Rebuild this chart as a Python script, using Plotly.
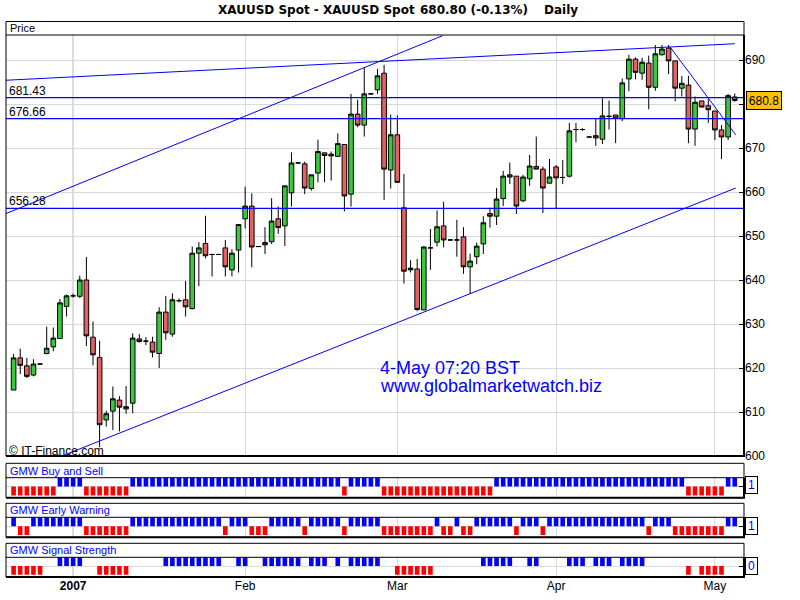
import plotly.graph_objects as go

# ---------------- data ----------------
opens = [615.0, 622.3, 620.5, 618.4, 620.9, 623.3, 624.8, 626.7, 634.0, 636.4,
         636.3, 640.0, 627.0, 622.4, 608.2, 610.2, 612.7, 610.7, 612.0, 626.6,
         626.1, 625.9, 623.3, 632.7, 627.7, 635.3, 635.5, 633.5, 646.1, 648.3,
         645.8, 645.8, 647.3, 642.3, 646.8, 653.9, 656.8, 647.6, 648.5, 648.7,
         653.9, 652.3, 659.8, 666.6, 666.4, 660.8, 664.3, 668.9, 668.2, 668.1,
         670.8, 659.5, 677.7, 675.2, 682.3, 683.2, 687.0, 665.0, 673.0, 656.4,
         642.3, 642.5, 633.2, 647.3, 648.6, 652.3, 649.1, 649.1, 649.8, 643.0,
         645.3, 648.2, 655.1, 654.5, 658.5, 663.9, 663.6, 658.0, 663.0, 665.8,
         665.2, 662.0, 665.7, 663.3, 663.6, 674.2, 674.2, 672.5, 672.8, 672.0,
         677.2, 677.5, 676.7, 685.7, 690.2, 687.0, 689.3, 683.8, 691.2, 692.7,
         689.8, 683.6, 684.3, 674.3, 680.7, 679.6, 678.4, 674.1, 672.5, 681.6]
highs = [623.2, 624.4, 622.3, 622.0, 620.9, 629.4, 629.2, 635.7, 636.7, 636.9,
         641.0, 645.2, 630.6, 626.2, 610.3, 615.8, 613.6, 615.9, 627.9, 627.7,
         627.0, 627.1, 633.8, 636.4, 637.0, 635.8, 639.8, 647.6, 648.6, 654.6,
         645.8, 645.8, 649.1, 647.0, 652.6, 661.2, 659.7, 647.6, 652.0, 658.6,
         656.7, 661.4, 669.0, 666.6, 666.9, 663.9, 671.9, 668.9, 669.2, 673.3,
         670.8, 682.3, 681.0, 688.3, 682.3, 688.0, 688.9, 677.6, 677.4, 664.1,
         644.5, 644.8, 647.7, 651.6, 655.8, 657.8, 649.1, 653.7, 652.0, 646.0,
         648.5, 654.5, 656.4, 660.9, 664.8, 666.7, 663.6, 663.9, 668.4, 672.6,
         665.8, 667.5, 666.1, 667.3, 675.7, 675.7, 674.5, 672.5, 676.6, 681.3,
         680.8, 677.5, 685.8, 691.2, 690.6, 690.5, 691.0, 693.4, 693.4, 693.4,
         689.8, 686.4, 686.4, 681.7, 680.7, 681.1, 678.4, 675.2, 682.3, 682.4]
lows = [615.0, 618.6, 617.7, 618.1, 620.9, 623.1, 623.8, 626.7, 631.7, 636.0,
        635.9, 625.0, 620.6, 602.0, 606.7, 605.9, 605.6, 609.6, 609.7, 625.8,
        625.2, 622.4, 620.0, 626.4, 627.1, 634.9, 631.7, 633.3, 638.6, 644.9,
        640.8, 645.8, 640.8, 640.8, 641.7, 651.7, 642.9, 647.6, 645.9, 648.2,
        650.5, 647.7, 656.7, 666.6, 659.5, 660.3, 662.2, 662.2, 662.6, 668.1,
        655.6, 656.7, 674.7, 672.6, 682.3, 682.3, 658.2, 660.8, 662.2, 639.2,
        641.7, 632.9, 633.2, 642.3, 647.6, 647.4, 649.1, 645.3, 641.4, 636.8,
        643.6, 645.9, 651.9, 652.5, 656.8, 661.8, 655.0, 657.7, 661.4, 665.2,
        655.2, 662.0, 656.2, 661.8, 663.3, 671.3, 673.9, 672.5, 670.5, 670.9,
        674.2, 671.1, 676.1, 682.9, 685.6, 685.5, 678.8, 683.0, 691.0, 686.8,
        680.6, 681.7, 671.1, 670.5, 679.3, 675.7, 671.8, 667.5, 671.8, 680.5]
closes = [622.3, 620.6, 618.1, 620.9, 620.9, 624.5, 626.8, 634.8, 636.4, 636.4,
          640.0, 627.3, 623.0, 607.1, 609.6, 613.0, 611.1, 611.2, 626.8, 626.0,
          626.1, 623.6, 632.7, 628.0, 635.5, 635.3, 633.9, 646.1, 647.3, 645.5,
          645.8, 645.8, 643.0, 646.1, 652.6, 656.8, 647.5, 647.6, 648.0, 653.4,
          651.9, 661.4, 666.6, 666.6, 660.9, 663.9, 669.2, 668.3, 668.6, 671.0,
          659.1, 677.7, 675.2, 682.3, 682.3, 686.4, 665.2, 673.0, 662.2, 642.0,
          642.7, 633.3, 647.5, 647.3, 652.1, 649.1, 649.1, 649.1, 643.0, 644.3,
          647.7, 653.0, 654.5, 658.4, 663.6, 663.4, 656.8, 663.4, 665.9, 665.2,
          660.9, 663.4, 663.2, 663.3, 673.9, 674.2, 674.2, 672.5, 672.3, 677.3,
          677.2, 676.8, 684.8, 690.2, 687.2, 689.5, 683.8, 691.4, 692.5, 689.8,
          683.6, 684.7, 674.3, 680.4, 679.3, 678.7, 674.1, 672.5, 681.9, 680.8]

buy_sell = [-1, -1, -1, -1, -1, -1, -1, 1, 1, 1,
            1, -1, -1, -1, -1, -1, -1, -1, 1, 1,
            1, 1, 1, 1, 1, 1, 1, 1, 1, 1,
            1, 1, 1, 1, 1, 1, 1, 1, 1, 1,
            1, 1, 1, 1, 1, 1, 1, 1, 1, 1,
            -1, 1, 1, 1, 1, 1, -1, -1, -1, -1,
            -1, -1, -1, -1, -1, -1, -1, -1, -1, -1,
            -1, -1, -1, 1, 1, 1, 1, 1, 1, 1,
            1, 1, 1, 1, 1, 1, 1, 1, 1, 1,
            1, 1, 1, 1, 1, 1, 1, 1, 1, 1,
            1, 1, -1, -1, -1, -1, -1, -1, 1, 1]
early_warning = [1, -1, -1, 1, 1, 1, 1, 1, 1, 1,
                 1, -1, -1, -1, -1, -1, -1, -1, 1, 1,
                 1, 1, 1, 1, 1, 1, 1, 1, 1, 1,
                 1, 1, -1, 1, 1, 1, -1, -1, -1, 1,
                 1, 1, 1, 1, -1, 1, 1, 1, 1, 1,
                 -1, 1, 1, 1, 1, 1, -1, -1, -1, -1,
                 -1, -1, -1, -1, 1, -1, -1, 1, -1, -1,
                 1, 1, 1, 1, 1, 1, -1, 1, 1, 1,
                 -1, 1, 1, 1, 1, 1, 1, 1, 1, 1,
                 1, 1, 1, 1, 1, 1, -1, 1, 1, 1,
                 -1, -1, -1, -1, -1, -1, -1, -1, 1, 1]
signal_strength = [-1, -1, -1, -1, -1, 0, 0, 1, 1, 1,
                   1, 0, 0, -1, -1, -1, -1, -1, 0, 0,
                   0, 0, 0, 1, 1, 1, 1, 1, 1, 1,
                   1, 1, 0, 0, 1, 1, 0, 0, 1, 1,
                   1, 1, 1, 1, 0, 1, 1, 1, 0, 1,
                   0, 1, 1, 1, 1, 1, 0, 0, -1, -1,
                   -1, -1, -1, -1, 0, 0, 0, 0, 0, 0,
                   0, 1, 1, 1, 1, 1, 0, 0, 1, 1,
                   0, 0, 0, 0, 1, 1, 1, 0, 1, 1,
                   1, 0, 1, 1, 1, 1, 0, 0, 0, 0,
                   0, 0, -1, 0, -1, -1, -1, -1, 0, 0]

month_ticks = [9, 35, 58, 82, 106]
month_labels = ["<b>2007</b>", "Feb", "Mar", "Apr", "May"]
year_tick = 9
price_ticks = [600, 610, 620, 630, 640, 650, 660, 670, 680, 690]
# the 680 label is covered by the last-price box in the reference
price_labels = ["600", "610", "620", "630", "640", "650", "660", "670", "", "690"]
levels = [681.43, 676.66, 656.28]
level_labels = ["681.43", "676.66", "656.28"]
# trendlines: (x0, y0, x1, y1) in bar-index / price units
trendlines = [(-1.15, 655.1, 64.8, 695.5),
              (-1.15, 685.4, 109.0, 693.7),
              (7.3, 600.0, 109.15, 660.9),
              (99.2, 693.0, 109.15, 673.0)]
last_price = 680.8
title_parts = ["XAUUSD Spot - XAUUSD Spot", "680.80 (-0.13%)", "Daily"]
panel_titles = ["GMW Buy and Sell", "GMW Early Warning", "GMW Signal Strength"]
panel_last = ["1", "1", "0"]
stamp_lines = ["4-May 07:20 BST", "www.globalmarketwatch.biz"]
copyright_text = "\u00a9 IT-Finance.com"

idx = list(range(len(opens)))

# ---------------- styling / geometry ----------------
W, H = 800, 600
ML, MR, MT, MB = 6, 56, 21, 23
PW, PH = W - ML - MR, H - MT - MB


def PX(px):
    return (px - ML) / PW


def PY(py):
    return (H - MB - py) / PH


GREEN = "#3cc83c"
RED_C = "#e06262"
BLUE = "#0000ff"
RED = "#ff0000"
GRID = "#d9d9d9"
UI = "Liberation Sans, Arial, sans-serif"
BOLD = "DejaVu Sans, sans-serif"

main_dom = [PY(456), PY(35)]
panel_doms = [[PY(497.7), PY(477.7)], [PY(537.3), PY(517.3)], [0.0, PY(557.3)]]
panel_boxes = [(463.3, 477.7, 497.7), (503.3, 517.3, 537.3), (543.3, 557.3, 577.0)]
panel_label_y = [470.5, 510.3, 550.3]
panel_value_y = [485.4, 525.8, 566.2]

fig = go.Figure()

fig.add_trace(go.Candlestick(
    x=idx, open=opens, high=highs, low=lows, close=closes,
    increasing=dict(fillcolor=GREEN, line=dict(color="black", width=1)),
    decreasing=dict(fillcolor=RED_C, line=dict(color="black", width=1)),
    whiskerwidth=0, showlegend=False, hoverinfo="skip",
    xaxis="x", yaxis="y"))

for k, sig in enumerate([buy_sell, early_warning, signal_strength]):
    fig.add_trace(go.Bar(
        x=idx, y=sig, width=0.7,
        marker=dict(color=[BLUE if v > 0 else RED for v in sig], line=dict(width=0)),
        showlegend=False, hoverinfo="skip",
        xaxis="x", yaxis="y%d" % (k + 2)))

shapes = []
annotations = []

# level lines
for lv in levels:
    shapes.append(dict(type="line", xref="x domain", yref="y", x0=0, x1=1, y0=lv, y1=lv,
                       line=dict(color=BLUE, width=1.2), layer="above"))
for lv, lab in zip(levels, level_labels):
    annotations.append(dict(text=lab, xref="paper", yref="y", x=PX(8), y=lv,
                            xanchor="left", yanchor="bottom", showarrow=False,
                            borderpad=0, yshift=-1, font=dict(family=UI, size=12, color="black")))
# trendlines
for x0, y0, x1, y1 in trendlines:
    shapes.append(dict(type="line", xref="x", yref="y", x0=x0, y0=y0, x1=x1, y1=y1,
                       line=dict(color=BLUE, width=1), layer="above"))

# darker year gridline in each panel
for yr in ["y", "y2", "y3", "y4"]:
    shapes.append(dict(type="line", xref="x", yref=yr + " domain", x0=year_tick, x1=year_tick,
                       y0=0, y1=1, line=dict(color="#a0a0a0", width=1), layer="below"))


# panel frames
def frame(top, sep, bottom):
    out = [dict(type="rect", xref="paper", yref="paper", x0=0, x1=1, y0=PY(bottom), y1=PY(top),
                line=dict(color="black", width=1), layer="above"),
           dict(type="line", xref="paper", yref="paper", x0=0, x1=1, y0=PY(sep), y1=PY(sep),
                line=dict(color="black", width=1), layer="above"),
           dict(type="line", xref="paper", yref="paper", x0=0, x1=PX(745), y0=PY(bottom), y1=PY(bottom),
                line=dict(color="black", width=2), layer="above"),
           dict(type="line", xref="paper", yref="paper", x0=1, x1=1, y0=PY(bottom), y1=PY(sep),
                line=dict(color="black", width=2), layer="above")]
    return out


shapes += frame(21.5, 35, 456)
for (t, s, b) in panel_boxes:
    shapes += frame(t, s, b)

# header texts
annotations.append(dict(text="Price", xref="paper", yref="paper", x=PX(8), y=PY(28.3),
                        xanchor="left", yanchor="middle", showarrow=False,
                        font=dict(family=UI, size=11, color="black")))
for lab, yy in zip(panel_titles, panel_label_y):
    annotations.append(dict(text=lab, xref="paper", yref="paper", x=PX(8), y=PY(yy),
                            xanchor="left", yanchor="middle", showarrow=False,
                            font=dict(family=UI, size=11, color=BLUE)))
for val, yy in zip(panel_last, panel_value_y):
    annotations.append(dict(text=val, xref="paper", yref="paper", x=PX(745), y=PY(yy),
                            xanchor="left", yanchor="middle", showarrow=False,
                            width=7, height=12, borderpad=2, borderwidth=1,
                            bordercolor="black", bgcolor="white",
                            font=dict(family=UI, size=12, color=BLUE)))
# last price box
annotations.append(dict(text="%.1f" % last_price, xref="paper", yref="y", x=PX(745.5), y=last_price,
                        xanchor="left", yanchor="middle", showarrow=False,
                        width=30, height=13, borderpad=2, borderwidth=1,
                        bordercolor="black", bgcolor="#ffc000",
                        font=dict(family=UI, size=12, color="black")))
# title
for txt, xx in zip(title_parts, [216, 418, 542]):
    annotations.append(dict(text="<b>%s</b>" % txt, xref="paper", yref="paper", x=PX(xx), y=PY(10),
                            xanchor="left", yanchor="middle", showarrow=False,
                            font=dict(family=BOLD, size=12, color="black")))
# stamp
for txt, yy in zip(stamp_lines, [367.5, 386.0]):
    annotations.append(dict(text=txt, xref="paper", yref="paper", x=PX(378), y=PY(yy),
                            xanchor="left", yanchor="middle", showarrow=False,
                            font=dict(family=UI, size=18, color=BLUE)))
annotations.append(dict(text=copyright_text, xref="paper", yref="paper", x=PX(7), y=PY(450.5),
                        xanchor="left", yanchor="middle", showarrow=False,
                        font=dict(family=UI, size=12, color="black")))

panel_axis = dict(side="right", anchor="x", range=[-1.25, 1.0], tickvals=[0],
                  ticks="inside", ticklen=5, tickcolor="black", showticklabels=False,
                  showgrid=True, gridcolor=GRID, zeroline=False, showline=False, fixedrange=True)

fig.update_layout(
    width=W, height=H, margin=dict(l=ML, r=MR, t=MT, b=MB, pad=0),
    paper_bgcolor="white", plot_bgcolor="white",
    showlegend=False, barmode="overlay", boxgap=0.3, boxgroupgap=0.0,
    xaxis=dict(domain=[0, 1], range=[-1.15, 110.4], anchor="y4",
               tickvals=month_ticks, ticktext=month_labels, ticks="",
               showgrid=True, gridcolor=GRID, zeroline=False, showline=False,
               tickfont=dict(family=UI, size=12, color="black"),
               rangeslider=dict(visible=False), fixedrange=True),
    yaxis=dict(domain=main_dom, range=[600, 600 + (456 - 35) / 4.4], side="right", anchor="x",
               tickvals=price_ticks, ticktext=price_labels, ticks="inside", ticklen=5,
               tickcolor="black", showgrid=True, gridcolor=GRID, zeroline=False,
               showline=False, tickfont=dict(family=UI, size=12, color="black"),
               fixedrange=True),
    yaxis2=dict(domain=panel_doms[0], **panel_axis),
    yaxis3=dict(domain=panel_doms[1], **panel_axis),
    yaxis4=dict(domain=panel_doms[2], **panel_axis),
    shapes=shapes, annotations=annotations,
)

fig.write_html("out.html", config={"displayModeBar": False},
               post_script="document.body.style.margin='0px';")
